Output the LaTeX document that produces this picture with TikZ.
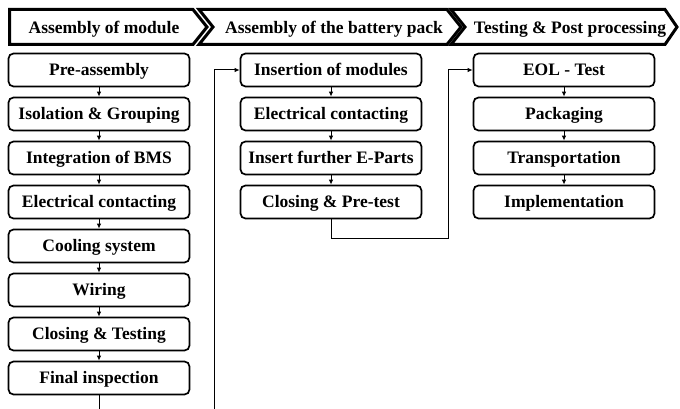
\documentclass[tikz,border=0pt]{standalone}
\usepackage{fontspec}
\setmainfont{Liberation Serif}
\usetikzlibrary{arrows.meta,positioning}

\begin{document}
\begin{tikzpicture}[x=1pt, y=-1pt, >={Latex[length=5pt,width=4.5pt]},
    phase/.style={draw=black, line width=3pt, line join=miter},
    phasetext/.style={inner sep=0pt, text height=11.5pt, text depth=0pt, font=\fontsize{17.5}{20}\selectfont\bfseries},
    stepbox/.style={rectangle, draw=black, line width=1.7pt, rounded corners=5pt, minimum width=181pt, minimum height=33pt, inner sep=0pt, text height=11.5pt, text depth=0pt, font=\fontsize{17.5}{20}\selectfont\bfseries},
    flow/.style={->, line width=1pt}]
    \useasboundingbox (0,0) rectangle (680,409);

    % Phases
    \draw[phase] (9.5,9.5) -- (193,9.5) -- (207,27) -- (193,44.5) -- (9.5,44.5) -- cycle;
    \draw[phase] (199,9.5) -- (447,9.5) -- (461,27) -- (447,44.5) -- (199,44.5) -- (213,27) -- cycle;
    \draw[phase] (451,9.5) -- (665,9.5) -- (677,27) -- (665,44.5) -- (451,44.5) -- (465,27) -- cycle;
    \node[phasetext] (module) at (104,28) {Assembly of module};
    \node[phasetext] (pack) at (334,28) {Assembly of the battery pack};
    \node[phasetext] (post) at (570,28) {Testing \& Post processing};

    % Assembly of module
    \node[stepbox] (pre) at (99,70) {Pre-assembly};
    \node[stepbox] (iso) at (99,114) {Isolation \& Grouping};
    \node[stepbox] (bms) at (99,158) {Integration of BMS};
    \node[stepbox] (elmod) at (99,202) {Electrical contacting};
    \node[stepbox] (cool) at (99,246) {Cooling system};
    \node[stepbox] (wire) at (99,290) {Wiring};
    \node[stepbox] (clt) at (99,334) {Closing \& Testing};
    \node[stepbox] (fin) at (99,378) {Final inspection};

    % Assembly of the battery pack
    \node[stepbox] (ins) at (331,70) {Insertion of modules};
    \node[stepbox] (elpack) at (331,114) {Electrical contacting};
    \node[stepbox] (epart) at (331,158) {Insert further E-Parts};
    \node[stepbox] (cpt) at (331,202) {Closing \& Pre-test};

    % Testing & Post processing
    \node[stepbox] (eol) at (564,70) {EOL - Test};
    \node[stepbox] (pkg) at (564,114) {Packaging};
    \node[stepbox] (trans) at (564,158) {Transportation};
    \node[stepbox] (impl) at (564,202) {Implementation};

    % Arrows
    \draw[flow] (pre) -- (iso);
    \draw[flow] (iso) -- (bms);
    \draw[flow] (bms) -- (elmod);
    \draw[flow] (elmod) -- (cool);
    \draw[flow] (cool) -- (wire);
    \draw[flow] (wire) -- (clt);
    \draw[flow] (clt) -- (fin);
    \draw[flow] (ins) -- (elpack);
    \draw[flow] (elpack) -- (epart);
    \draw[flow] (epart) -- (cpt);
    \draw[flow] (eol) -- (pkg);
    \draw[flow] (pkg) -- (trans);
    \draw[flow] (trans) -- (impl);

    % Links between phases
    \coordinate (endA) at (99,409);
    \coordinate (endB) at (214,409);
    \coordinate (turn) at (448,238);
    \draw[line width=1pt] (fin) -- (endA);
    \draw[flow] (endB) |- (ins);
    \draw[flow] (cpt) |- (turn) |- (eol);
\end{tikzpicture}
\end{document}
